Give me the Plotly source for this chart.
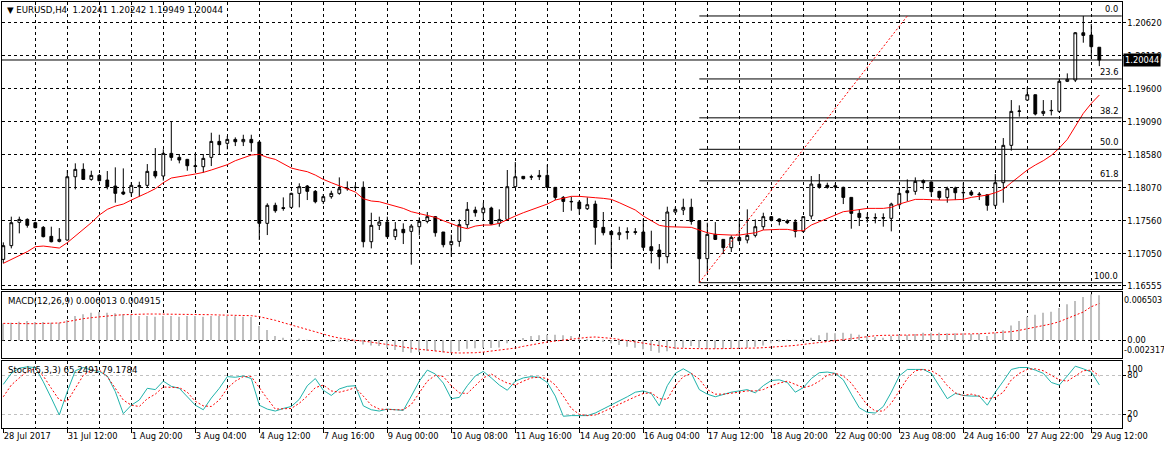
import plotly.graph_objects as go

# ---------------- data (EURUSD H4) ----------------
opens = [1.16963, 1.17175, 1.17535, 1.17581, 1.17530, 1.17458, 1.17319, 1.17241, 1.17262, 1.18240,
         1.18354, 1.18199, 1.18261, 1.18189, 1.18096, 1.18004, 1.17993, 1.18086, 1.18107, 1.18323,
         1.18251, 1.18601, 1.18539, 1.18508, 1.18410, 1.18395, 1.18539, 1.18786, 1.18756, 1.18817,
         1.18781, 1.18817, 1.18776, 1.17520, 1.17798, 1.17762, 1.17767, 1.17983, 1.18096, 1.18014,
         1.17859, 1.17932, 1.17983, 1.18055, 1.18076, 1.18076, 1.17236, 1.17489, 1.17540, 1.17314,
         1.17427, 1.17396, 1.17468, 1.17550, 1.17623, 1.17386, 1.17190, 1.17241, 1.17499, 1.17726,
         1.17684, 1.17756, 1.17520, 1.17581, 1.18086, 1.18246, 1.18240, 1.18261, 1.18261, 1.18076,
         1.17921, 1.17859, 1.17849, 1.17746, 1.17818, 1.17458, 1.17396, 1.17344, 1.17380, 1.17391,
         1.17386, 1.17159, 1.17108, 1.17005, 1.17695, 1.17726, 1.17767, 1.17561, 1.16974, 1.17350,
         1.17272, 1.17144, 1.17303, 1.17262, 1.17334, 1.17468, 1.17623, 1.17587, 1.17556, 1.17540,
         1.17396, 1.17633, 1.18127, 1.18107, 1.18101, 1.18076, 1.17921, 1.17674, 1.17607, 1.17602,
         1.17607, 1.17597, 1.17808, 1.18024, 1.18014, 1.18179, 1.18158, 1.18014, 1.17921, 1.18065,
         1.17998, 1.18004, 1.17973, 1.17962, 1.17798, 1.18148, 1.18725, 1.19250, 1.19425, 1.19507,
         1.19219, 1.19260, 1.19250, 1.19714, 1.19734, 1.20465, 1.20429, 1.20241]
highs = [1.17226, 1.17623, 1.17623, 1.17597, 1.17545, 1.17478, 1.17468, 1.17447, 1.18344, 1.18447,
         1.18447, 1.18333, 1.18282, 1.18328, 1.18385, 1.18369, 1.18158, 1.18163, 1.18436, 1.18683,
         1.18663, 1.19095, 1.18591, 1.18515, 1.18601, 1.18591, 1.18920, 1.18889, 1.18869, 1.18848,
         1.18889, 1.18889, 1.18786, 1.17829, 1.17839, 1.17921, 1.17993, 1.18138, 1.18112, 1.18035,
         1.17973, 1.18024, 1.18230, 1.18168, 1.18112, 1.18168, 1.17684, 1.17623, 1.17623, 1.17540,
         1.17520, 1.17509, 1.17612, 1.17695, 1.17633, 1.17386, 1.17344, 1.17581, 1.17849, 1.17777,
         1.17839, 1.17777, 1.17736, 1.18344, 1.18467, 1.18251, 1.18271, 1.18344, 1.18426, 1.18076,
         1.17942, 1.17932, 1.17880, 1.17921, 1.17870, 1.17695, 1.17396, 1.17468, 1.17458, 1.17447,
         1.17592, 1.17406, 1.17200, 1.17777, 1.17777, 1.17901, 1.17901, 1.17570, 1.17530, 1.17540,
         1.17275, 1.17334, 1.17581, 1.17736, 1.17581, 1.17684, 1.17633, 1.17597, 1.17581, 1.17581,
         1.17633, 1.18251, 1.18282, 1.18148, 1.18138, 1.18086, 1.17925, 1.17736, 1.17674, 1.17674,
         1.17674, 1.17839, 1.18076, 1.18199, 1.18230, 1.18199, 1.18168, 1.18024, 1.18086, 1.18086,
         1.18148, 1.18035, 1.18004, 1.17965, 1.18282, 1.18838, 1.19425, 1.19343, 1.19621, 1.19510,
         1.19425, 1.19425, 1.19755, 1.19837, 1.20476, 1.20724, 1.20599, 1.20242]
lows = [1.16902, 1.17133, 1.17365, 1.17453, 1.17442, 1.17303, 1.17226, 1.17226, 1.17252, 1.18045,
        1.18189, 1.18179, 1.18168, 1.18045, 1.17839, 1.17957, 1.17932, 1.17932, 1.18076, 1.18215,
        1.18179, 1.18488, 1.18447, 1.18333, 1.18318, 1.18302, 1.18405, 1.18591, 1.18663, 1.18714,
        1.18714, 1.18627, 1.17262, 1.17339, 1.17684, 1.17715, 1.17751, 1.17767, 1.17880, 1.17829,
        1.17818, 1.17901, 1.17962, 1.18024, 1.18045, 1.17149, 1.17133, 1.17417, 1.17303, 1.17262,
        1.17200, 1.16881, 1.17334, 1.17520, 1.17314, 1.17149, 1.17005, 1.17159, 1.17447, 1.17623,
        1.17571, 1.17499, 1.17468, 1.17561, 1.18065, 1.18199, 1.18189, 1.18189, 1.18065, 1.17880,
        1.17695, 1.17715, 1.17653, 1.17726, 1.17190, 1.17334, 1.16819, 1.17262, 1.17272, 1.17344,
        1.17108, 1.16902, 1.16809, 1.16902, 1.17674, 1.17648, 1.17499, 1.16603, 1.16768, 1.17262,
        1.17056, 1.17077, 1.17236, 1.17211, 1.17303, 1.17417, 1.17550, 1.17489, 1.17509, 1.17303,
        1.17375, 1.17581, 1.18055, 1.18055, 1.18055, 1.17818, 1.17437, 1.17478, 1.17530, 1.17520,
        1.17468, 1.17396, 1.17777, 1.17859, 1.17962, 1.18045, 1.17932, 1.17880, 1.17839, 1.17880,
        1.17880, 1.17942, 1.17880, 1.17715, 1.17767, 1.17839, 1.18642, 1.19168, 1.19415, 1.19188,
        1.19178, 1.19188, 1.19229, 1.19703, 1.19703, 1.20311, 1.20064, 1.19949]
closes = [1.17175, 1.17530, 1.17581, 1.17489, 1.17453, 1.17314, 1.17236, 1.17272, 1.18240, 1.18354,
          1.18199, 1.18261, 1.18179, 1.18086, 1.17983, 1.17973, 1.18107, 1.18101, 1.18323, 1.18251,
          1.18601, 1.18539, 1.18498, 1.18410, 1.18400, 1.18524, 1.18786, 1.18735, 1.18817, 1.18781,
          1.18817, 1.18766, 1.17520, 1.17798, 1.17715, 1.17751, 1.17983, 1.18086, 1.18014, 1.17854,
          1.17932, 1.17983, 1.18055, 1.18060, 1.18074, 1.17236, 1.17489, 1.17540, 1.17314, 1.17427,
          1.17375, 1.17478, 1.17550, 1.17623, 1.17375, 1.17190, 1.17241, 1.17499, 1.17736, 1.17684,
          1.17756, 1.17509, 1.17581, 1.18086, 1.18240, 1.18210, 1.18235, 1.18240, 1.18076, 1.17921,
          1.17859, 1.17854, 1.17746, 1.17808, 1.17458, 1.17375, 1.17344, 1.17375, 1.17391, 1.17380,
          1.17149, 1.17097, 1.17005, 1.17695, 1.17736, 1.17767, 1.17550, 1.16974, 1.17350, 1.17272,
          1.17144, 1.17303, 1.17252, 1.17334, 1.17468, 1.17623, 1.17571, 1.17550, 1.17530, 1.17396,
          1.17623, 1.18127, 1.18076, 1.18076, 1.18081, 1.17921, 1.17674, 1.17612, 1.17602, 1.17607,
          1.17602, 1.17818, 1.17983, 1.17993, 1.18168, 1.18148, 1.18009, 1.17921, 1.18055, 1.17993,
          1.17993, 1.17962, 1.17962, 1.17798, 1.18148, 1.18725, 1.19250, 1.19255, 1.19507, 1.19209,
          1.19250, 1.19265, 1.19714, 1.19745, 1.20465, 1.20424, 1.20249, 1.20044]
moving_avg = [1.16902, 1.16963, 1.17030, 1.17082, 1.17159, 1.17169, 1.17154, 1.17138, 1.17221, 1.17324,
              1.17417, 1.17530, 1.17648, 1.17736, 1.17787, 1.17818, 1.17880, 1.17932, 1.17993, 1.18055,
              1.18148, 1.18220, 1.18246, 1.18261, 1.18282, 1.18307, 1.18344, 1.18385, 1.18426, 1.18488,
              1.18529, 1.18575, 1.18586, 1.18539, 1.18508, 1.18436, 1.18374, 1.18344, 1.18318, 1.18266,
              1.18199, 1.18148, 1.18096, 1.18055, 1.18004, 1.17900, 1.17865, 1.17854, 1.17818, 1.17787,
              1.17751, 1.17700, 1.17674, 1.17648, 1.17612, 1.17561, 1.17509, 1.17468, 1.17437, 1.17478,
              1.17494, 1.17494, 1.17520, 1.17581, 1.17633, 1.17684, 1.17726, 1.17767, 1.17818, 1.17880,
              1.17911, 1.17937, 1.17937, 1.17932, 1.17916, 1.17906, 1.17890, 1.17839, 1.17787, 1.17726,
              1.17633, 1.17561, 1.17489, 1.17468, 1.17468, 1.17458, 1.17458, 1.17417, 1.17375, 1.17350,
              1.17339, 1.17339, 1.17339, 1.17355, 1.17375, 1.17417, 1.17427, 1.17427, 1.17427, 1.17406,
              1.17406, 1.17494, 1.17545, 1.17597, 1.17648, 1.17700, 1.17715, 1.17736, 1.17751, 1.17751,
              1.17751, 1.17767, 1.17818, 1.17854, 1.17890, 1.17890, 1.17880, 1.17880, 1.17880, 1.17880,
              1.17890, 1.17921, 1.17942, 1.17957, 1.17993, 1.18045, 1.18148, 1.18240, 1.18344, 1.18421,
              1.18488, 1.18570, 1.18683, 1.18817, 1.19023, 1.19219, 1.19373, 1.19502]
macd_main = [0.00227, 0.00236, 0.00250, 0.00259, 0.00245, 0.00245, 0.00236, 0.00236, 0.00272, 0.00326,
             0.00348, 0.00370, 0.00379, 0.00370, 0.00361, 0.00348, 0.00339, 0.00326, 0.00326, 0.00317,
             0.00326, 0.00326, 0.00317, 0.00326, 0.00326, 0.00317, 0.00326, 0.00326, 0.00326, 0.00321,
             0.00317, 0.00312, 0.00192, 0.00138, 0.00058, 0.00036, 0.00013, 0.00009, 0.00004, 0.00000,
             -0.00004, -0.00009, -0.00013, -0.00013, -0.00022, -0.00054, -0.00067, -0.00076, -0.00098, -0.00129,
             -0.00156, -0.00165, -0.00156, -0.00143, -0.00147, -0.00161, -0.00165, -0.00143, -0.00112, -0.00107,
             -0.00098, -0.00103, -0.00094, -0.00040, 0.00004, 0.00031, 0.00058, 0.00067, 0.00076, 0.00076,
             0.00067, 0.00058, 0.00049, 0.00022, 0.00000, -0.00022, -0.00040, -0.00062, -0.00085, -0.00098,
             -0.00120, -0.00143, -0.00165, -0.00147, -0.00112, -0.00098, -0.00076, -0.00098, -0.00112, -0.00112,
             -0.00112, -0.00112, -0.00103, -0.00103, -0.00085, -0.00067, -0.00040, -0.00013, 0.00004, 0.00004,
             0.00013, 0.00036, 0.00067, 0.00103, 0.00094, 0.00103, 0.00089, 0.00076, 0.00058, 0.00045,
             0.00036, 0.00058, 0.00076, 0.00071, 0.00085, 0.00103, 0.00103, 0.00103, 0.00094, 0.00094,
             0.00094, 0.00085, 0.00089, 0.00058, 0.00103, 0.00134, 0.00200, 0.00259, 0.00317, 0.00343,
             0.00370, 0.00384, 0.00433, 0.00482, 0.00526, 0.00580, 0.00615, 0.006013]
macd_signal = [0.00227, 0.00223, 0.00223, 0.00223, 0.00223, 0.00227, 0.00227, 0.00232, 0.00250, 0.00272,
               0.00290, 0.00303, 0.00317, 0.00326, 0.00335, 0.00343, 0.00348, 0.00352, 0.00352, 0.00352,
               0.00352, 0.00352, 0.00348, 0.00348, 0.00343, 0.00343, 0.00343, 0.00339, 0.00339, 0.00335,
               0.00335, 0.00330, 0.00317, 0.00294, 0.00268, 0.00236, 0.00205, 0.00174, 0.00147, 0.00116,
               0.00080, 0.00054, 0.00031, 0.00013, 0.00000, -0.00009, -0.00022, -0.00036, -0.00054, -0.00071,
               -0.00089, -0.00107, -0.00120, -0.00129, -0.00143, -0.00156, -0.00165, -0.00169, -0.00169, -0.00165,
               -0.00156, -0.00143, -0.00129, -0.00116, -0.00103, -0.00080, -0.00058, -0.00040, -0.00022, -0.00009,
               0.00004, 0.00018, 0.00031, 0.00040, 0.00045, 0.00040, 0.00027, 0.00013, -0.00004, -0.00022,
               -0.00040, -0.00058, -0.00076, -0.00094, -0.00103, -0.00107, -0.00112, -0.00112, -0.00112, -0.00112,
               -0.00112, -0.00112, -0.00107, -0.00107, -0.00103, -0.00098, -0.00094, -0.00085, -0.00076, -0.00067,
               -0.00054, -0.00045, -0.00031, -0.00013, 0.00000, 0.00013, 0.00027, 0.00040, 0.00054, 0.00062,
               0.00067, 0.00067, 0.00067, 0.00067, 0.00067, 0.00071, 0.00076, 0.00076, 0.00080, 0.00080,
               0.00085, 0.00089, 0.00089, 0.00094, 0.00098, 0.00103, 0.00116, 0.00134, 0.00156, 0.00174,
               0.00192, 0.00219, 0.00250, 0.00290, 0.00335, 0.00379, 0.00450, 0.004915]
stoch_main = [66, 83, 91, 93, 92, 70, 45, 19, 55, 87,
              92, 88, 86, 79, 55, 21, 34, 42, 60, 58,
              71, 63, 60, 47, 34, 27, 45, 60, 78, 77,
              79, 75, 34, 28, 25, 29, 32, 43, 64, 75,
              57, 49, 59, 63, 64, 33, 27, 25, 28, 27,
              26, 48, 71, 88, 82, 68, 44, 46, 64, 79,
              86, 76, 65, 57, 71, 76, 78, 77, 69, 48,
              17, 18, 18, 18, 22, 28, 35, 41, 47, 54,
              56, 52, 33, 64, 83, 90, 83, 58, 51, 47,
              51, 54, 56, 58, 53, 64, 72, 73, 69, 54,
              61, 75, 84, 85, 83, 73, 51, 30, 23, 22,
              32, 54, 79, 89, 89, 89, 83, 64, 44, 52,
              49, 48, 48, 34, 54, 71, 89, 92, 92, 88,
              83, 69, 65, 79, 94, 90, 85, 65.2491]
stoch_signal = [47, 65, 76, 86, 90, 79, 60, 42, 40, 60,
                80, 88, 88, 78, 60, 42, 34, 32, 44, 51,
                62, 61, 61, 54, 40, 33, 32, 42, 60, 71,
                78, 78, 60, 44, 28, 28, 29, 37, 48, 61,
                65, 56, 54, 57, 61, 48, 34, 28, 27, 27,
                27, 35, 53, 71, 80, 78, 64, 53, 52, 64,
                76, 82, 74, 68, 65, 71, 76, 77, 75, 65,
                48, 29, 20, 18, 19, 24, 30, 35, 41, 47,
                52, 53, 44, 43, 64, 78, 83, 74, 58, 51,
                51, 52, 54, 56, 56, 58, 64, 68, 71, 66,
                61, 64, 71, 80, 83, 79, 68, 51, 34, 25,
                25, 37, 56, 75, 87, 89, 87, 80, 64, 53,
                49, 51, 48, 44, 46, 54, 73, 83, 89, 90,
                87, 80, 73, 71, 79, 87, 88, 79.1784]

time_labels = ["28 Jul 2017", "31 Jul 12:00", "1 Aug 20:00", "3 Aug 04:00", "4 Aug 12:00",
               "7 Aug 16:00", "9 Aug 00:00", "10 Aug 08:00", "11 Aug 16:00", "14 Aug 20:00",
               "16 Aug 04:00", "17 Aug 12:00", "18 Aug 20:00", "22 Aug 00:00", "23 Aug 08:00",
               "24 Aug 16:00", "27 Aug 22:00", "29 Aug 12:00"]
time_label_bars = [0, 8, 16, 24, 32, 40, 48, 56, 64, 72, 80, 88, 96, 104, 112, 120, 128, 136]

price_ticks = [1.20620, 1.20110, 1.19600, 1.19090, 1.18580, 1.18070, 1.17560, 1.17050, 1.16555]

fib_levels = ["0.0", "23.6", "38.2", "50.0", "61.8", "100.0"]
fib_prices = [1.20724, 1.19751, 1.19150, 1.18664, 1.18177, 1.16603]
fib_anchor_bars = [87, 113]
fib_anchor_prices = [1.16603, 1.20724]

# ---------------- layout helpers ----------------
W, H = 1164, 449
N = len(opens)
bar_x = list(range(N))
X_RANGE = [-0.1625, 139.8]
X_DOM = [2 / W, 1121.7 / W]


def ydom(top_px, bot_px):
    return [(H - bot_px) / H, (H - top_px) / H]


FONT = dict(family="DejaVu Sans", size=8.3, color="black")
SMALL_FONT = dict(family="DejaVu Sans", size=8, color="black")
GRID_DASH = "3px,3px"
grid_bars = [b for b in range(4, int(X_RANGE[1]) + 1, 4)]

fig = go.Figure()

# main: candles
fig.add_trace(go.Candlestick(
    x=bar_x, open=opens, high=highs, low=lows, close=closes,
    increasing=dict(line=dict(color="black", width=1), fillcolor="white"),
    decreasing=dict(line=dict(color="black", width=1), fillcolor="black"),
    whiskerwidth=0, xaxis="x", yaxis="y", showlegend=False, hoverinfo="skip"))
fig.add_trace(go.Scatter(x=bar_x, y=moving_avg, mode="lines",
                         line=dict(color="red", width=1), xaxis="x", yaxis="y",
                         showlegend=False, hoverinfo="skip"))

# fibonacci retracement
fib_x, fib_y = [], []
for p in fib_prices:
    fib_x += [fib_anchor_bars[0], X_RANGE[1] + 5, None]
    fib_y += [p, p, None]
fig.add_trace(go.Scatter(x=fib_x, y=fib_y, mode="lines",
                         line=dict(color="black", width=1), xaxis="x", yaxis="y",
                         showlegend=False, hoverinfo="skip"))
fig.add_trace(go.Scatter(x=fib_anchor_bars, y=fib_anchor_prices, mode="lines",
                         line=dict(color="red", width=1, dash="2px,2px"), xaxis="x", yaxis="y",
                         showlegend=False, hoverinfo="skip"))

# MACD
fig.add_trace(go.Bar(x=bar_x, y=macd_main, width=0.18,
                     marker=dict(color="#c0c0c0", line=dict(width=0)),
                     xaxis="x2", yaxis="y2", showlegend=False, hoverinfo="skip"))
fig.add_trace(go.Scatter(x=bar_x, y=macd_signal, mode="lines",
                         line=dict(color="red", width=1, dash="2px,2px"),
                         xaxis="x2", yaxis="y2", showlegend=False, hoverinfo="skip"))

# Stochastic
fig.add_trace(go.Scatter(x=bar_x, y=stoch_main, mode="lines",
                         line=dict(color="#20b2aa", width=1),
                         xaxis="x3", yaxis="y3", showlegend=False, hoverinfo="skip"))
fig.add_trace(go.Scatter(x=bar_x, y=stoch_signal, mode="lines",
                         line=dict(color="red", width=1, dash="2px,2px"),
                         xaxis="x3", yaxis="y3", showlegend=False, hoverinfo="skip"))

# empty carrier so that the time-label axis (overlaying the stochastic x axis) is drawn
fig.add_trace(go.Scatter(x=time_label_bars, y=[None] * len(time_label_bars), mode="lines",
                         xaxis="x4", yaxis="y3", showlegend=False, hoverinfo="skip"))

common_x = dict(domain=X_DOM, range=X_RANGE, tickmode="array", tickvals=grid_bars,
                showticklabels=False, ticks="", showgrid=True, gridcolor="black",
                gridwidth=1, griddash=GRID_DASH, showline=True, mirror=True,
                linecolor="black", linewidth=1, zeroline=False, automargin=False,
                fixedrange=True)
common_y = dict(side="right", showline=True, mirror=True, linecolor="black", linewidth=1,
                zeroline=False, automargin=False, ticks="outside", ticklen=3,
                tickcolor="black", tickfont=FONT, fixedrange=True, tickmode="array")

fig.update_layout(
    width=W, height=H, margin=dict(l=0, r=0, t=0, b=0),
    paper_bgcolor="white", plot_bgcolor="white",
    showlegend=False, hovermode=False, dragmode=False, boxgap=0.5,
    xaxis=dict(**common_x, anchor="y", rangeslider=dict(visible=False)),
    xaxis2=dict(**common_x, anchor="y2"),
    xaxis3=dict(**common_x, anchor="y3"),
    xaxis4=dict(overlaying="x3", anchor="y3", side="bottom", range=X_RANGE, domain=X_DOM,
                tickmode="array", tickvals=time_label_bars, ticktext=time_labels,
                ticks="outside", ticklen=4, tickcolor="black", tickfont=FONT, tickangle=0,
                ticklabelposition="outside right", showgrid=False, showline=False,
                zeroline=False, automargin=False, fixedrange=True),
    yaxis=dict(**common_y, domain=ydom(2, 288.7), anchor="x", range=[1.16510, 1.20940],
               tickvals=price_ticks, ticktext=[f"{p:.5f}" for p in price_ticks],
               showgrid=True, gridcolor="black", griddash=GRID_DASH),
    yaxis2=dict(**common_y, domain=ydom(291.7, 357.7), anchor="x2", range=[-0.002317, 0.006503],
                tickvals=[0], ticktext=["0.00"], showgrid=True, gridcolor="black",
                griddash=GRID_DASH),
    yaxis3=dict(**common_y, domain=ydom(360.7, 427.7), anchor="x3", range=[-0.62, 102.46],
                tickvals=[20, 80], ticktext=["20", "80"], showgrid=True,
                gridcolor="#c0c0c0", griddash=GRID_DASH),
)

# current price line
fig.add_shape(type="line", xref="x domain", yref="y", x0=0, x1=1,
              y0=closes[-1], y1=closes[-1], line=dict(color="black", width=1))

LABEL_FONT = dict(family="DejaVu Sans", size=8.6, color="black")
ann = []
ann.append(dict(text="\u25bc EURUSD,H4\u00a0\u00a0" + " ".join(
    f"{v:.5f}" for v in (opens[-1], highs[-1], lows[-1], closes[-1])),
    xref="paper", yref="paper", x=5 / W, y=(H - 10) / H, xanchor="left", yanchor="middle",
    showarrow=False, font=LABEL_FONT))
ann.append(dict(text=f"MACD(12,26,9) {macd_main[-1]:.6f} {macd_signal[-1]:.6f}",
                xref="paper", yref="paper", x=6 / W, y=(H - 300.5) / H, xanchor="left",
                yanchor="middle", showarrow=False, font=LABEL_FONT))
ann.append(dict(text=f"Stoch(5,3,3) {stoch_main[-1]:.4f} {stoch_signal[-1]:.4f}",
                xref="paper", yref="paper", x=6 / W, y=(H - 370) / H, xanchor="left",
                yanchor="middle", showarrow=False, font=LABEL_FONT))
for lvl, p in zip(fib_levels, fib_prices):
    ann.append(dict(text=lvl, xref="x domain", yref="y", x=1, y=p, xanchor="right",
                    yanchor="bottom", xshift=-2, showarrow=False, font=FONT))
ann.append(dict(text=f"{closes[-1]:.5f}", xref="x domain", yref="y", x=1, y=closes[-1],
                xanchor="left", yanchor="middle", xshift=1, showarrow=False,
                bgcolor="black", borderpad=1,
                font=dict(family="DejaVu Sans", size=8.3, color="white")))
ann.append(dict(text="0.006503", xref="x domain", yref="y2 domain", x=1, y=1, xanchor="left",
                yanchor="top", xshift=0, yshift=-2, showarrow=False, font=SMALL_FONT))
ann.append(dict(text="-0.002317", xref="x domain", yref="y2 domain", x=1, y=0, xanchor="left",
                yanchor="bottom", xshift=0, yshift=1, showarrow=False, font=SMALL_FONT))
ann.append(dict(text="100", xref="x domain", yref="y3 domain", x=1, y=1, xanchor="left",
                yanchor="top", xshift=3, yshift=-1, showarrow=False, font=FONT))
ann.append(dict(text="0", xref="x domain", yref="y3 domain", x=1, y=0, xanchor="left",
                yanchor="bottom", xshift=3, yshift=2, showarrow=False, font=FONT))
fig.update_layout(annotations=ann)

fig.write_html("out.html")
